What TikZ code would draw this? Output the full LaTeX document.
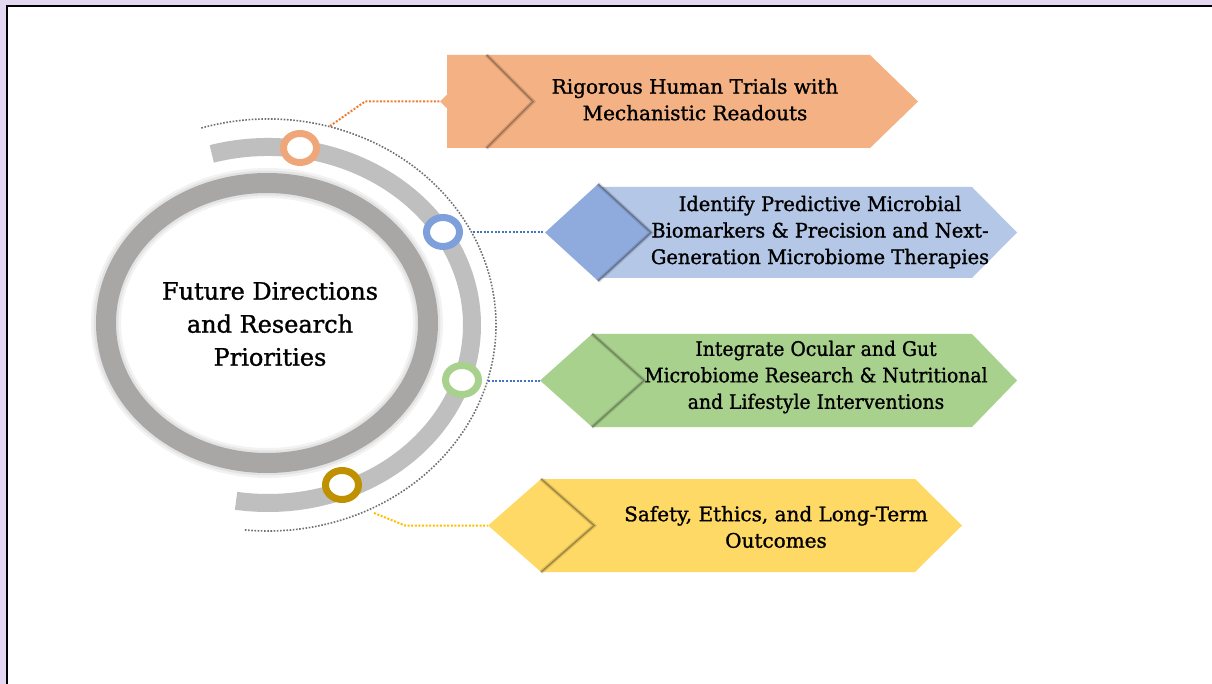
\documentclass[tikz,border=0pt]{standalone}
\usepackage{fontspec}
\usepackage{graphicx}
\setmainfont{DejaVu Serif}[FakeBold=1.2]
\usetikzlibrary{calc,shapes.geometric}

\definecolor{lavender}{HTML}{E2D8F2}
\definecolor{ringgray}{HTML}{A9A6A6}
\definecolor{bandgray}{HTML}{BFBFBF}
\definecolor{dotgray}{HTML}{6F6F6F}
\definecolor{orangefill}{HTML}{F4B183}
\definecolor{orangering}{HTML}{EFA679}
\definecolor{orangeline}{HTML}{ED7D31}
\definecolor{bluefill}{HTML}{B4C7E7}
\definecolor{bluedia}{HTML}{8FAADC}
\definecolor{bluering}{HTML}{7F9FDA}
\definecolor{blueline}{HTML}{4472C4}
\definecolor{greenfill}{HTML}{A9D18E}
\definecolor{yellowfill}{HTML}{FFD966}
\definecolor{goldring}{HTML}{BF9000}
\definecolor{yellowline}{HTML}{FFC000}

\newcommand\narrowline[2][0.94]{\scalebox{#1}[1]{#2}}

\tikzset{
  marker/.style={ellipse, draw=#1, fill=white, line width=7pt,
    minimum width=33pt, minimum height=29pt, inner sep=0pt},
  dia/.style={diamond, fill=#1, inner sep=0pt},
  diashadow/.style={draw=#1, line width=1.4pt, opacity=0.6},
  diahaze/.style={draw=#1, line width=4pt, opacity=0.12},
  linkline/.style={draw=#1, line width=2pt, dash pattern=on 2pt off 1.6pt},
  bannertext/.style={align=center, font=\fontsize{20}{26.5}\selectfont, text=black},
}

\begin{document}
\begin{tikzpicture}[x=1pt,y=-1pt]
\useasboundingbox (0,0) rectangle (1212,684);

% page frame
\fill[lavender] (0,0) rectangle (1212,684);
\fill[white] (7,6) rectangle (1214,686);
\draw[line width=2.5pt] (1214,6) -- (7,6) -- (7,686);

% inner ring with soft shadow
\coordinate (ic) at (267,323);
\draw[black, opacity=0.05, line width=30pt] (ic) ellipse [x radius=161, y radius=140];
\draw[black, opacity=0.06, line width=25pt] (ic) ellipse [x radius=161, y radius=140];
\draw[ringgray, line width=20pt] (ic) ellipse [x radius=161, y radius=140];
\node[align=center, font=\fontsize{24}{33}\selectfont] (title) at (270,324)
  {Future Directions\\and Research\\Priorities};

% outer band and dotted orbit
\coordinate (oc) at (268,325);
\draw[bandgray, line width=18pt] ($(oc)+(-106:204 and 178)$)
  arc[start angle=-106, end angle=99, x radius=204, y radius=178];
\draw[dotgray, line width=1.6pt, dash pattern=on 1.6pt off 1.6pt]
  ($(oc)+(-107:228 and 206)$)
  arc[start angle=-107, end angle=96, x radius=228, y radius=206];

% markers on the band
\node[marker=orangering] (m1) at (300,148) {};
\node[marker=bluering]   (m2) at (443,232) {};
\node[marker=greenfill]  (m3) at (462,380) {};
\node[marker=goldring]   (m4) at (342,485) {};

% banner boxes
\fill[orangefill] (447,55) -- (870,55) -- (918,101.5) -- (870,148) -- (447,148) -- cycle;
\fill[bluefill] (598,187) -- (972,187) -- (1017,232.5) -- (972,278) -- (598,278) -- cycle;
\fill[greenfill] (592,334) -- (972,334) -- (1017,380.5) -- (972,427) -- (592,427) -- cycle;
\fill[yellowfill] (541,479) -- (915,479) -- (962,525.5) -- (915,572) -- (541,572) -- cycle;

% diamonds at the banner heads
\node[dia=orangefill, minimum width=93pt, minimum height=93pt] (d1) at (486.5,101.5) {};
\node[dia=bluedia, minimum width=106pt, minimum height=97pt] (d2) at (598,232.5) {};
\node[dia=greenfill, minimum width=104pt, minimum height=93pt] (d3) at (592,380.5) {};
\node[dia=yellowfill, minimum width=106pt, minimum height=93pt] (d4) at (541,525.5) {};

\begin{scope}[shift={(2,0)}]
\draw[diahaze=black] (d1.north) -- (d1.east) -- (d1.south);
\draw[diahaze=black] (d2.north) -- (d2.east) -- (d2.south);
\draw[diahaze=black] (d3.north) -- (d3.east) -- (d3.south);
\draw[diahaze=black] (d4.north) -- (d4.east) -- (d4.south);
\end{scope}
\begin{scope}[shift={(1.2,0)}]
\draw[diashadow=orangefill!50!black] (d1.north) -- (d1.east) -- (d1.south);
\draw[diashadow=bluedia!50!black] (d2.north) -- (d2.east) -- (d2.south);
\draw[diashadow=greenfill!50!black] (d3.north) -- (d3.east) -- (d3.south);
\draw[diashadow=yellowfill!45!black] (d4.north) -- (d4.east) -- (d4.south);
\end{scope}

% connectors from the orbit to the diamonds
\coordinate (o1) at (330,126);
\coordinate (o2) at (473,232.5);
\coordinate (o3) at (488,380.5);
\coordinate (o4) at (374,513);
\draw[linkline=orangeline] (o1) -- (365,101.5) -- (d1.west);
\draw[linkline=blueline] (o2) -- (d2.west);
\draw[linkline=blueline] (o3) -- (d3.west);
\draw[linkline=yellowline] (o4) -- (405,525.5) -- (d4.west);

% banner texts
\node[bannertext] (t1) at (695,99.5)
  {Rigorous Human Trials with\\Mechanistic Readouts};
\node[bannertext] (t2) at (820,232)
  {\narrowline[0.97]{Identify Predictive Microbial}\\\narrowline[0.97]{Biomarkers \& Precision and Next-}\\\narrowline[0.97]{Generation Microbiome Therapies}};
\node[bannertext] (t3) at (816,377)
  {\narrowline{Integrate Ocular and Gut}\\\narrowline{Microbiome Research \& Nutritional}\\\narrowline{and Lifestyle Interventions}};
\node[bannertext] (t4) at (776,527)
  {Safety, Ethics, and Long-Term\\Outcomes};
\end{tikzpicture}
\end{document}
